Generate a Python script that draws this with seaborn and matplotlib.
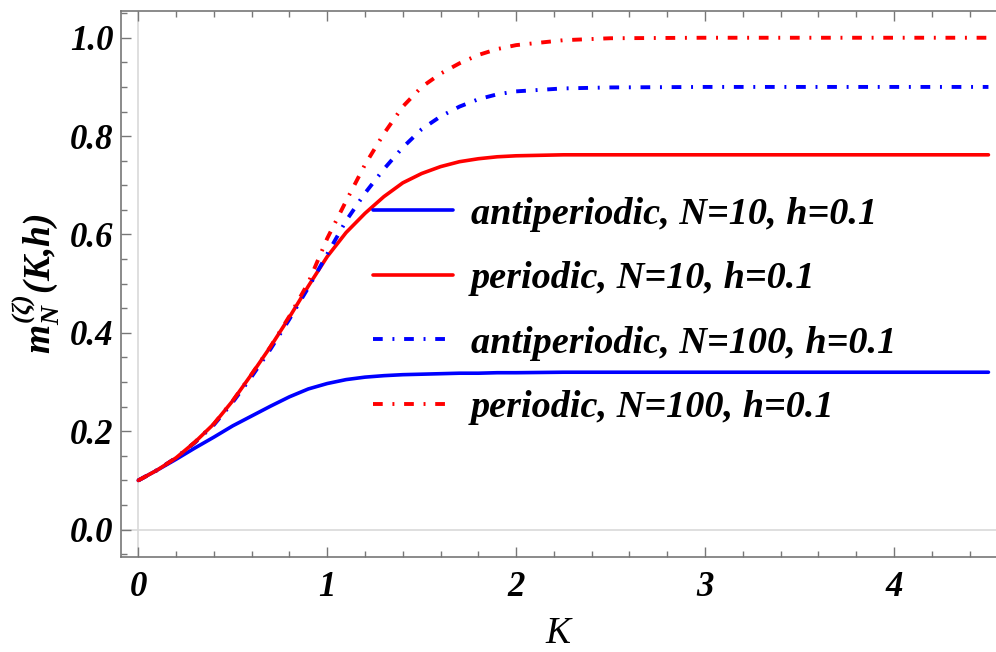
import matplotlib
matplotlib.use('Agg')
import matplotlib.pyplot as plt
import seaborn as sns
from pandas import DataFrame
from matplotlib.ticker import MultipleLocator, FormatStrFormatter

# K values and magnetisation
k_values = [0.0, 0.1, 0.2, 0.3, 0.4, 0.5, 0.6, 0.7, 0.8, 0.9, 1.0,
            1.1, 1.2, 1.3, 1.4, 1.5, 1.6, 1.7, 1.8, 1.9, 2.0,
            2.25, 2.5, 3.0, 3.5, 4.0, 4.5]

antiperiodic_10 = [0.100, 0.121, 0.143, 0.166, 0.188, 0.211, 0.231, 0.251, 0.270, 0.286, 0.297,
                   0.305, 0.310, 0.313, 0.315, 0.316, 0.317, 0.318, 0.318, 0.319, 0.319,
                   0.320, 0.320, 0.320, 0.320, 0.320, 0.320]
periodic_10 = [0.100, 0.121, 0.146, 0.178, 0.215, 0.262, 0.316, 0.372, 0.432, 0.495, 0.555,
               0.604, 0.643, 0.677, 0.705, 0.724, 0.738, 0.748, 0.754, 0.758, 0.760,
               0.762, 0.762, 0.762, 0.762, 0.762, 0.762]
antiperiodic_100 = [0.100, 0.121, 0.146, 0.177, 0.213, 0.259, 0.311, 0.367, 0.428, 0.492, 0.560,
                    0.628, 0.684, 0.733, 0.777, 0.814, 0.840, 0.860, 0.875, 0.885, 0.891,
                    0.897, 0.899, 0.900, 0.900, 0.900, 0.900]
periodic_100 = [0.100, 0.121, 0.146, 0.178, 0.215, 0.262, 0.316, 0.372, 0.434, 0.502, 0.592,
                0.668, 0.742, 0.805, 0.860, 0.900, 0.927, 0.948, 0.965, 0.977, 0.985,
                0.995, 0.999, 1.000, 1.000, 1.000, 1.000]

labels = ['antiperiodic, N=10, h=0.1', 'periodic, N=10, h=0.1',
          'antiperiodic, N=100, h=0.1', 'periodic, N=100, h=0.1']

sns.set_style('ticks')
plt.rcParams['font.family'] = 'serif'
plt.rcParams['font.serif'] = ['Liberation Serif']
plt.rcParams['font.weight'] = 'bold'
plt.rcParams['font.style'] = 'italic'
plt.rcParams['text.color'] = 'black'
plt.rcParams['axes.labelcolor'] = 'black'
plt.rcParams['mathtext.fontset'] = 'custom'
plt.rcParams['mathtext.it'] = 'Liberation Serif:bold:italic'
plt.rcParams['mathtext.rm'] = 'Liberation Serif:bold:italic'
plt.rcParams['mathtext.bf'] = 'Liberation Serif:bold:italic'

df = DataFrame({'K': k_values, 'ap10': antiperiodic_10, 'p10': periodic_10,
                'ap100': antiperiodic_100, 'p100': periodic_100})

fig = plt.figure(figsize=(9.96, 6.52), dpi=100)
ax = fig.add_axes([0.1212, 0.1462, 0.8788, 0.8374])

ax.axhline(0, color='#d9d9d9', lw=1.2, zorder=0)
ax.axvline(0, color='#d9d9d9', lw=1.2, zorder=0)

dashdot = (0, (2.5, 2.5, 0.5, 2.5))
sns.lineplot(data=df, x='K', y='ap10', ax=ax, color='#0000ff', lw=2.6, label=labels[0])
sns.lineplot(data=df, x='K', y='p10', ax=ax, color='#ff0000', lw=2.6, label=labels[1])
sns.lineplot(data=df, x='K', y='ap100', ax=ax, color='#0000ff', lw=2.8, linestyle=dashdot, label=labels[2])
sns.lineplot(data=df, x='K', y='p100', ax=ax, color='#ff0000', lw=2.8, linestyle=dashdot, label=labels[3])

ax.set_xlim(-0.093, 4.54)
ax.set_ylim(-0.055, 1.055)

ax.xaxis.set_major_locator(MultipleLocator(1))
ax.xaxis.set_minor_locator(MultipleLocator(0.2))
ax.yaxis.set_major_locator(MultipleLocator(0.2))
ax.yaxis.set_minor_locator(MultipleLocator(0.05))
ax.yaxis.set_major_formatter(FormatStrFormatter('%.1f'))

ax.tick_params(which='both', direction='in', top=True, right=False, color='#777777',
               width=1, labelcolor='black')
ax.tick_params(which='major', length=7.5, labelsize=25)
ax.tick_params(which='minor', length=4)
ax.tick_params(axis='x', pad=10)
ax.tick_params(axis='y', pad=5)

for side in ['left', 'bottom', 'top']:
    ax.spines[side].set_color('#777777')
    ax.spines[side].set_linewidth(1.2)
ax.spines['right'].set_visible(False)

ax.set_xlabel('K', fontsize=27, labelpad=9)
ax.set_ylabel(r'$m_N^{(\zeta)}(K{,}h)$', fontsize=27, labelpad=6)

ax.legend(loc='upper left', bbox_to_anchor=(0.367, 0.710), bbox_transform=fig.transFigure,
          frameon=False, fontsize=27.5, handlelength=2.1, handletextpad=0.45, labelspacing=0.77,
          borderaxespad=0, borderpad=0.2)

fig.savefig('out.png', dpi=100)
